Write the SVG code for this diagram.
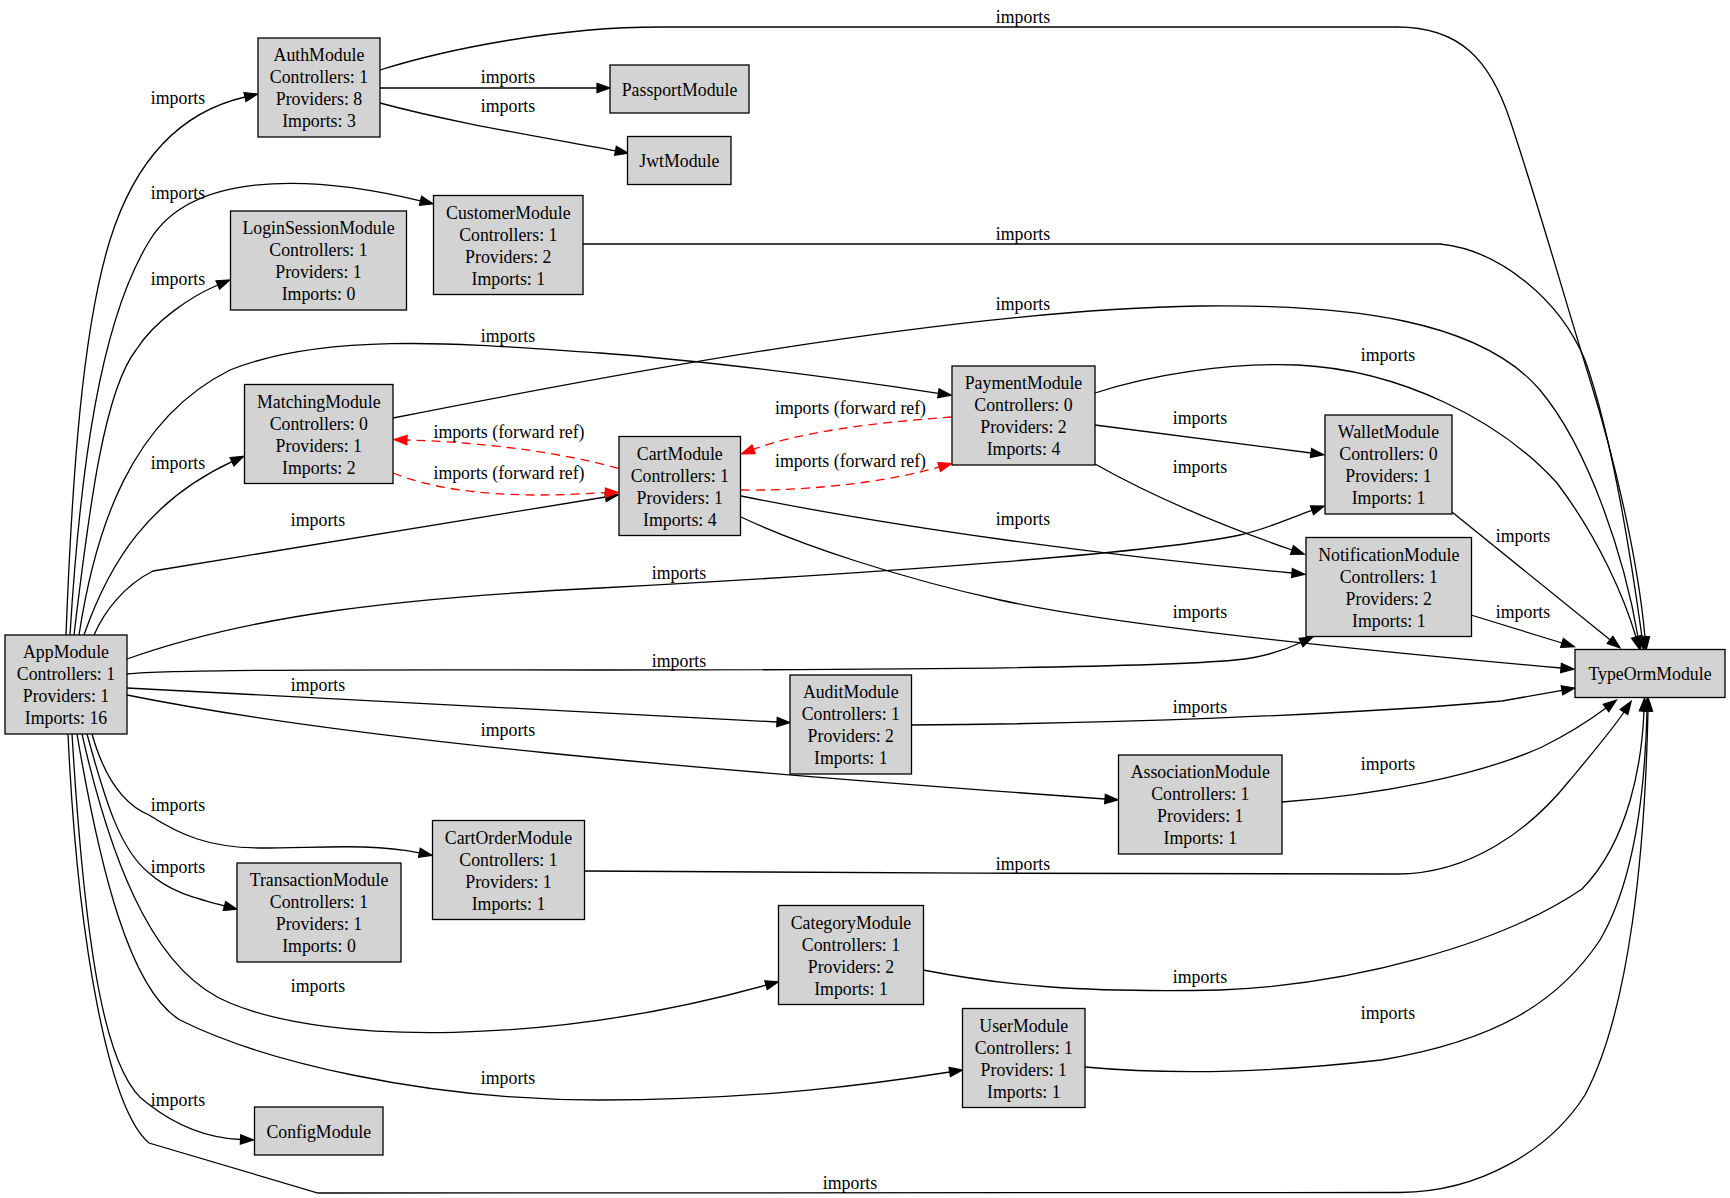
<svg xmlns="http://www.w3.org/2000/svg" width="1730" height="1198" viewBox="0 0 1730 1198">
<style>
text{font-family:"Liberation Serif","Times New Roman",serif;font-size:17.8px;text-anchor:middle;fill:#000}
.n rect{fill:#d3d3d3;stroke:#000;stroke-width:1.3}
.e path{fill:none;stroke:#000;stroke-width:1.3}
.e path.r{stroke:#ff0000;stroke-dasharray:9,6}
</style>
<defs>
<marker id="a" markerUnits="userSpaceOnUse" markerWidth="14" markerHeight="10" refX="0" refY="4.6" orient="auto" overflow="visible"><path d="M0,0 L13,4.6 L0,9.2 z" fill="#000" stroke="#000" stroke-width="1.2"/></marker>
<marker id="ar" markerUnits="userSpaceOnUse" markerWidth="14" markerHeight="10" refX="0" refY="4.6" orient="auto" overflow="visible"><path d="M0,0 L13,4.6 L0,9.2 z" fill="#ff0000" stroke="#ff0000" stroke-width="1.2"/></marker>
</defs>
<rect width="1730" height="1198" fill="#fff"/>
<g class="e" id="edges">
<path marker-end="url(#a)" d="M66,635 C72,480 82,330 110,240 C135,160 180,112 245,97"/>
<path marker-end="url(#a)" d="M70,635 C80,470 100,320 150,240 C190,175 300,172 420.5,200.8"/>
<path marker-end="url(#a)" d="M74,635 C90,500 105,390 136,350 C155,320 192,296 217.8,285"/>
<path marker-end="url(#a)" d="M79,635 C95,530 130,420 230,370 C330,330 480,345 600,353 C720,362 850,380 938.4,393.3"/>
<path marker-end="url(#a)" d="M84,635 C110,560 150,500 232,461.7"/>
<path marker-end="url(#a)" d="M94,635 C105,610 125,585 153,571 L605.5,497"/>
<path marker-end="url(#a)" d="M127,659 C250,615 400,598 600,588 C900,572 1160,552 1240,535 C1270,528 1290,518 1312,510.3"/>
<path marker-end="url(#a)" d="M127,674 C180,669 400,670 600,670 C900,670 1150,668 1235,660 C1265,657.2 1285,650 1301,642.5"/>
<path marker-end="url(#a)" d="M127,688 L777,722"/>
<path marker-end="url(#a)" d="M127,695 C350,740 700,770 1105,799"/>
<path marker-end="url(#a)" d="M92,734 C105,780 125,805 149,815 C180,835 210,848 260,848 C320,848 370,843 419.4,852.8"/>
<path marker-end="url(#a)" d="M87,734 C105,800 120,850 149,873 C170,892 195,898 224.5,906"/>
<path marker-end="url(#a)" d="M82,734 C115,880 160,975 230,1003 C330,1045 550,1045 766,985.2"/>
<path marker-end="url(#a)" d="M77,734 C100,870 130,990 180,1020 C260,1060 420,1100 600,1100 C760,1100 880,1083 949.7,1072"/>
<path marker-end="url(#a)" d="M72,734 C85,950 105,1075 147,1103 C175,1125 205,1138 240.5,1139.5"/>
<path marker-end="url(#a)" d="M68,734 C78,950 110,1110 149,1143 L318,1193 L1400,1192.5 C1480,1192 1550,1150 1585,1095 C1630,1010 1645,850 1648,711"/>
<path marker-end="url(#a)" d="M380,70 C450,48 560,27 660,27 L1397,27 C1460,27 1490,60 1510,120 C1540,210 1565,300 1590,380 C1615,460 1638,560 1645,637"/>
<path marker-end="url(#a)" d="M380,88 L597,88"/>
<path marker-end="url(#a)" d="M380,103 C450,122 530,135 615.5,150.8"/>
<path marker-end="url(#a)" d="M583,244 L1440,244 C1500,250 1560,300 1585,360 C1610,430 1630,550 1642,637"/>
<path marker-end="url(#a)" d="M393,418 C600,377 950,310 1200,306 C1350,304 1480,320 1540,390 C1590,450 1625,560 1638,637"/>
<path class="r" marker-end="url(#ar)" d="M618.4,468.3 C560,452 480,442 407,440"/>
<path class="r" marker-end="url(#ar)" d="M393,473 C430,488 480,495 540,495 C570,495 590,493 605.5,492.7"/>
<path class="r" marker-end="url(#ar)" d="M952,417 C870,423 800,432 753.6,449.4"/>
<path class="r" marker-end="url(#ar)" d="M741,490 C800,491 880,484 939.2,467"/>
<path marker-end="url(#a)" d="M1095,393 C1150,375 1230,362 1298,365 C1400,370 1500,420 1557,483 C1600,540 1625,600 1636,637"/>
<path marker-end="url(#a)" d="M1095,425 L1311,453"/>
<path marker-end="url(#a)" d="M1095,464 C1150,495 1220,525 1292,550"/>
<path marker-end="url(#a)" d="M741,496 C900,528 1100,555 1292,573"/>
<path marker-end="url(#a)" d="M741,517 C800,545 900,578 1000,600 C1100,622 1300,645 1561,668"/>
<path marker-end="url(#a)" d="M1452,512 L1610,639.8"/>
<path marker-end="url(#a)" d="M1471,615 L1562,643"/>
<path marker-end="url(#a)" d="M911,725 C1100,724 1350,715 1502,701 L1562,690.3"/>
<path marker-end="url(#a)" d="M1282,802 C1380,795 1480,775 1542,747 C1570,733 1590,720 1606,708"/>
<path marker-end="url(#a)" d="M584,871 C800,873 1200,874 1397,874 C1470,874 1530,830 1570,780 C1595,750 1612,730 1624,712"/>
<path marker-end="url(#a)" d="M923,970 C1000,985 1080,993 1220,990 C1350,985 1500,945 1582,889 C1630,840 1642,760 1644,711"/>
<path marker-end="url(#a)" d="M1085,1067 C1150,1073 1250,1075 1381,1060 C1500,1040 1560,1000 1600,940 C1635,880 1645,790 1647,711"/>
<g id="edge-labels">
<text x="178" y="104">imports</text>
<text x="178" y="199">imports</text>
<text x="178" y="285">imports</text>
<text x="508" y="342">imports</text>
<text x="178" y="469">imports</text>
<text x="318" y="526">imports</text>
<text x="679" y="578.5">imports</text>
<text x="679" y="666.5">imports</text>
<text x="318" y="691">imports</text>
<text x="508" y="736">imports</text>
<text x="178" y="811">imports</text>
<text x="178" y="873">imports</text>
<text x="318" y="992">imports</text>
<text x="508" y="1083.5">imports</text>
<text x="178" y="1106">imports</text>
<text x="850" y="1189">imports</text>
<text x="1023" y="23">imports</text>
<text x="508" y="83">imports</text>
<text x="508" y="112">imports</text>
<text x="1023" y="240">imports</text>
<text x="1023" y="310">imports</text>
<text x="509" y="437.5">imports (forward ref)</text>
<text x="509" y="479">imports (forward ref)</text>
<text x="850.5" y="414">imports (forward ref)</text>
<text x="850.5" y="466.5">imports (forward ref)</text>
<text x="1388" y="361">imports</text>
<text x="1200" y="424">imports</text>
<text x="1200" y="473">imports</text>
<text x="1023" y="525">imports</text>
<text x="1200" y="617.5">imports</text>
<text x="1523" y="541.5">imports</text>
<text x="1523" y="618">imports</text>
<text x="1200" y="713">imports</text>
<text x="1388" y="769.5">imports</text>
<text x="1023" y="870">imports</text>
<text x="1200" y="983">imports</text>
<text x="1388" y="1019">imports</text>
</g>
</g>
<g class="n" id="AppModule"><rect x="5" y="635" width="122" height="99"/><text x="66" y="658">AppModule</text><text x="66" y="680">Controllers: 1</text><text x="66" y="702">Providers: 1</text><text x="66" y="724">Imports: 16</text></g>
<g class="n" id="AuthModule"><rect x="258" y="38" width="122" height="99"/><text x="319" y="61">AuthModule</text><text x="319" y="83">Controllers: 1</text><text x="319" y="105">Providers: 8</text><text x="319" y="127">Imports: 3</text></g>
<g class="n" id="PassportModule"><rect x="610" y="65" width="139" height="48"/><text x="679.5" y="95.5">PassportModule</text></g>
<g class="n" id="JwtModule"><rect x="627.5" y="136.5" width="103.5" height="48"/><text x="679.3" y="167">JwtModule</text></g>
<g class="n" id="LoginSessionModule"><rect x="230.5" y="211" width="176" height="99"/><text x="318.5" y="234">LoginSessionModule</text><text x="318.5" y="256">Controllers: 1</text><text x="318.5" y="278">Providers: 1</text><text x="318.5" y="300">Imports: 0</text></g>
<g class="n" id="CustomerModule"><rect x="433.5" y="195.5" width="149.5" height="99"/><text x="508.3" y="218.5">CustomerModule</text><text x="508.3" y="240.5">Controllers: 1</text><text x="508.3" y="262.5">Providers: 2</text><text x="508.3" y="284.5">Imports: 1</text></g>
<g class="n" id="MatchingModule"><rect x="244.5" y="384.5" width="148.5" height="99"/><text x="318.8" y="407.5">MatchingModule</text><text x="318.8" y="429.5">Controllers: 0</text><text x="318.8" y="451.5">Providers: 1</text><text x="318.8" y="473.5">Imports: 2</text></g>
<g class="n" id="CartModule"><rect x="619" y="436.5" width="121.5" height="99"/><text x="679.8" y="459.5">CartModule</text><text x="679.8" y="481.5">Controllers: 1</text><text x="679.8" y="503.5">Providers: 1</text><text x="679.8" y="525.5">Imports: 4</text></g>
<g class="n" id="PaymentModule"><rect x="952" y="366" width="143" height="99"/><text x="1023.5" y="389">PaymentModule</text><text x="1023.5" y="411">Controllers: 0</text><text x="1023.5" y="433">Providers: 2</text><text x="1023.5" y="455">Imports: 4</text></g>
<g class="n" id="WalletModule"><rect x="1325" y="415" width="127" height="99"/><text x="1388.5" y="438">WalletModule</text><text x="1388.5" y="460">Controllers: 0</text><text x="1388.5" y="482">Providers: 1</text><text x="1388.5" y="504">Imports: 1</text></g>
<g class="n" id="NotificationModule"><rect x="1306" y="537.5" width="165.5" height="99"/><text x="1388.8" y="560.5">NotificationModule</text><text x="1388.8" y="582.5">Controllers: 1</text><text x="1388.8" y="604.5">Providers: 2</text><text x="1388.8" y="626.5">Imports: 1</text></g>
<g class="n" id="TypeOrmModule"><rect x="1575" y="649.5" width="150" height="48"/><text x="1650" y="680">TypeOrmModule</text></g>
<g class="n" id="AuditModule"><rect x="790" y="675" width="121.5" height="99"/><text x="850.8" y="698">AuditModule</text><text x="850.8" y="720">Controllers: 1</text><text x="850.8" y="742">Providers: 2</text><text x="850.8" y="764">Imports: 1</text></g>
<g class="n" id="AssociationModule"><rect x="1118.5" y="755" width="163.5" height="99"/><text x="1200.3" y="778">AssociationModule</text><text x="1200.3" y="800">Controllers: 1</text><text x="1200.3" y="822">Providers: 1</text><text x="1200.3" y="844">Imports: 1</text></g>
<g class="n" id="CartOrderModule"><rect x="432.5" y="820.5" width="152" height="99"/><text x="508.5" y="843.5">CartOrderModule</text><text x="508.5" y="865.5">Controllers: 1</text><text x="508.5" y="887.5">Providers: 1</text><text x="508.5" y="909.5">Imports: 1</text></g>
<g class="n" id="TransactionModule"><rect x="237" y="863" width="164" height="99"/><text x="319" y="886">TransactionModule</text><text x="319" y="908">Controllers: 1</text><text x="319" y="930">Providers: 1</text><text x="319" y="952">Imports: 0</text></g>
<g class="n" id="CategoryModule"><rect x="778.5" y="905.5" width="145" height="99"/><text x="851" y="928.5">CategoryModule</text><text x="851" y="950.5">Controllers: 1</text><text x="851" y="972.5">Providers: 2</text><text x="851" y="994.5">Imports: 1</text></g>
<g class="n" id="UserModule"><rect x="962.5" y="1008.5" width="122.5" height="99"/><text x="1023.8" y="1031.5">UserModule</text><text x="1023.8" y="1053.5">Controllers: 1</text><text x="1023.8" y="1075.5">Providers: 1</text><text x="1023.8" y="1097.5">Imports: 1</text></g>
<g class="n" id="ConfigModule"><rect x="254.5" y="1107" width="128.5" height="48"/><text x="318.8" y="1137.5">ConfigModule</text></g>
</svg>
